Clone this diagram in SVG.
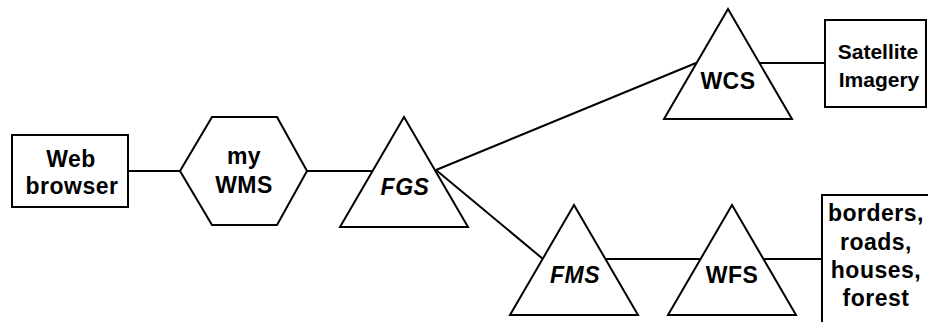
<svg xmlns="http://www.w3.org/2000/svg" width="928" height="322" viewBox="0 0 928 322">
  <style>
    .shape { fill: #fff; stroke: #000; stroke-width: 2; stroke-linejoin: miter; }
    .link { stroke: #000; stroke-width: 2; fill: none; }
    .lbl { font-family: "Liberation Sans", Arial, sans-serif; font-weight: bold; font-size: 23px; text-anchor: middle; fill: #000; letter-spacing: 0.5px; }
    .it { font-style: italic; }
    .tight { font-size: 21px; letter-spacing: 0; }
  </style>
  <rect width="928" height="322" fill="#fff"/>

  <!-- connectors -->
  <g id="connectors">
    <line class="link" x1="128" y1="171" x2="180" y2="171"/>
    <line class="link" x1="307" y1="171" x2="373" y2="171"/>
    <line class="link" x1="436" y1="170" x2="696" y2="63"/>
    <line class="link" x1="436" y1="170" x2="543" y2="259"/>
    <line class="link" x1="760" y1="63" x2="825" y2="63"/>
    <line class="link" x1="606" y1="259" x2="700" y2="259"/>
    <line class="link" x1="764" y1="259" x2="822" y2="259"/>
  </g>

  <g id="web-browser">
    <rect class="shape" x="12" y="135" width="116" height="72"/>
    <text class="lbl" x="71" y="167">Web</text>
    <text class="lbl" x="72" y="194">browser</text>
  </g>

  <g id="my-wms">
    <polygon class="shape" points="180,171 212,117 277,117 307,171 277,225 212,225"/>
    <text class="lbl" x="244" y="164">my</text>
    <text class="lbl" x="244" y="193">WMS</text>
  </g>

  <g id="fgs">
    <polygon class="shape" points="404,117 340,227 468,227"/>
    <text class="lbl it" x="405" y="195">FGS</text>
  </g>

  <g id="wcs">
    <polygon class="shape" points="728,9 664,119 792,119"/>
    <text class="lbl" x="728" y="89">WCS</text>
  </g>

  <g id="satellite-imagery">
    <rect class="shape" x="825" y="20" width="101" height="87"/>
    <text class="lbl tight" x="878" y="59">Satellite</text>
    <text class="lbl tight" x="879" y="87">Imagery</text>
  </g>

  <g id="fms">
    <polygon class="shape" points="574,205 510,315 638,315"/>
    <text class="lbl it" x="575" y="283">FMS</text>
  </g>

  <g id="wfs">
    <polygon class="shape" points="732,205 668,315 796,315"/>
    <text class="lbl" x="732" y="283">WFS</text>
  </g>

  <g id="vector-data">
    <rect class="shape" x="822" y="195" width="130" height="150"/>
    <text class="lbl" x="876" y="221">borders,</text>
    <text class="lbl" x="876" y="250">roads,</text>
    <text class="lbl" x="876" y="278">houses,</text>
    <text class="lbl" x="876" y="306">forest</text>
  </g>
</svg>
